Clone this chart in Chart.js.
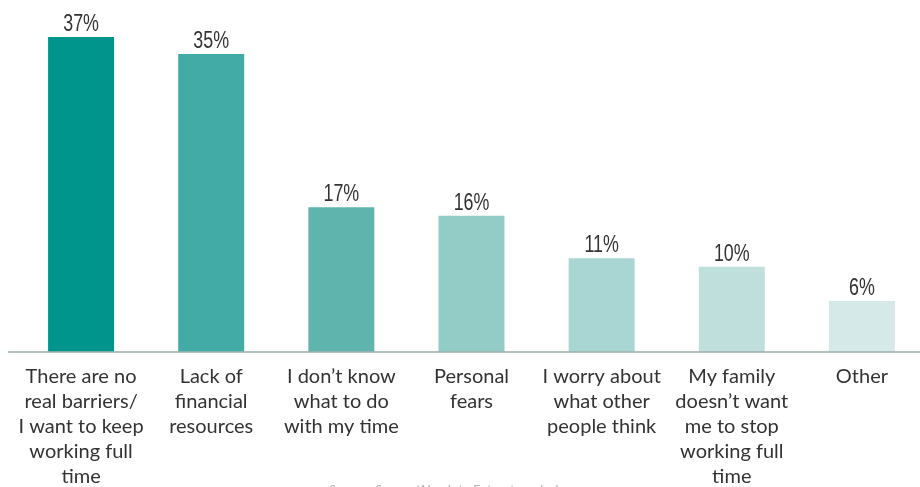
<!DOCTYPE html>
<html>
<head>
<meta charset="utf-8">
<script src="https://cdn.jsdelivr.net/npm/chart.js@4.4.1/dist/chart.umd.min.js"></script>
<style>
  html, body { margin: 0; padding: 0; background: #fff; overflow: hidden; }
  #wrap { position: relative; width: 931px; height: 487px; }
</style>
</head>
<body>
<div id="wrap"><canvas id="barriers"></canvas></div>
<script>
var categories = [
    ["There are no", "real barriers/", "I want to keep", "working full", "time"],
    ["Lack of", "financial", "resources"],
    ["I don\u2019t know", "what to do", "with my time"],
    ["Personal", "fears"],
    ["I worry about", "what other", "people think"],
    ["My family", "doesn\u2019t want", "me to stop", "working full", "time"],
    ["Other"]
];
var shares = [37, 35, 17, 16, 11, 10, 6];
var barColors = ["#00958c", "#43aba6", "#5fb4ae", "#93cbc7", "#a9d5d2", "#bfdfdd", "#d5e9e8"];
var sourceNote = "Source: Survey/Absolute Extract analysis";

// percentage above each bar, squeezed horizontally
var valueLabels = {
    id: "valueLabels",
    afterDatasetsDraw: function(chart) {
        var ctx = chart.ctx;
        var meta = chart.getDatasetMeta(0);
        var squeeze = 0.76;
        ctx.save();
        ctx.fillStyle = "#333333";
        ctx.font = "23.5px 'Liberation Sans', Arial, sans-serif";
        ctx.textAlign = "center";
        ctx.textBaseline = "alphabetic";
        meta.data.forEach(function(bar, i) {
            ctx.save();
            ctx.translate(bar.x, bar.y - 6);
            ctx.scale(squeeze, 1);
            ctx.fillText(shares[i] + "%", 0, 0);
            ctx.restore();
        });
        ctx.restore();
    }
};

// baseline and the source line underneath
var baseline = {
    id: "baseline",
    afterDatasetsDraw: function(chart) {
        var ctx = chart.ctx;
        var y = chart.scales.y.getPixelForValue(0);
        ctx.save();
        ctx.strokeStyle = "rgba(160,178,172,0.8)";
        ctx.lineWidth = 2;
        ctx.beginPath();
        ctx.moveTo(8, y);
        ctx.lineTo(chart.width, y);
        ctx.stroke();
        ctx.fillStyle = "#b4b4b4";
        ctx.font = "italic 14px Lato, sans-serif";
        ctx.textAlign = "center";
        ctx.textBaseline = "top";
        ctx.fillText(sourceNote, 446, 483);
        ctx.restore();
    }
};

new Chart(document.getElementById("barriers"), {
    type: "bar",
    data: {
        labels: categories,
        datasets: [{
            data: shares,
            backgroundColor: barColors,
            borderWidth: 0,
            barPercentage: 0.507,
            categoryPercentage: 1
        }]
    },
    options: {
        responsive: true,
        maintainAspectRatio: false,
        animation: false,
        events: [],
        layout: { padding: { left: 16, right: 4, top: 37, bottom: 0 } },
        plugins: {
            legend: { display: false },
            tooltip: { enabled: false }
        },
        scales: {
            x: {
                grid: { display: false },
                border: { display: false },
                ticks: {
                    color: "#333333",
                    padding: 4,
                    maxRotation: 0,
                    autoSkip: false,
                    font: { family: "Lato, sans-serif", size: 20, lineHeight: "25px" }
                },
                afterFit: function(scale) { scale.height = 135; }
            },
            y: {
                display: false,
                min: 0,
                max: 37
            }
        }
    },
    plugins: [valueLabels, baseline]
});
</script>
</body>
</html>
